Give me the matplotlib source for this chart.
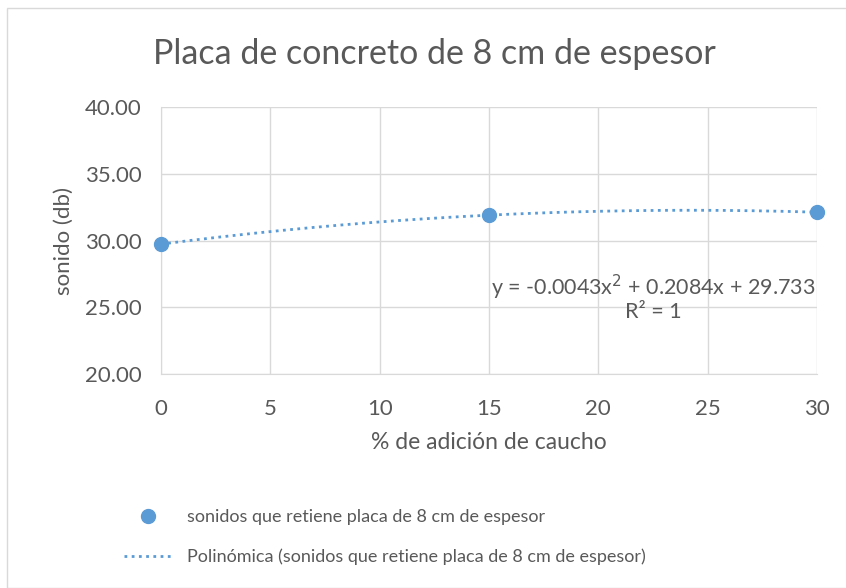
import numpy as np
import matplotlib
matplotlib.use("Agg")
import matplotlib.pyplot as plt
from matplotlib.patches import Rectangle

# Datos
adicion_caucho = [0, 15, 30]
sonido_db = [29.73, 31.90, 32.12]
ticks_x = [0, 5, 10, 15, 20, 25, 30]
ticks_y = [20, 25, 30, 35, 40]

AZUL = "#5B9BD5"
GRIS_TXT = "#595959"
GRIS_GRID = "#D9D9D9"

plt.rcParams["font.family"] = ["Lato", "DejaVu Sans"]

fig = plt.figure(figsize=(8.46, 5.88), dpi=100)
ax = fig.add_axes([0.1903, 0.3639, 0.7754, 0.4541])

# Marco exterior del gráfico (estilo Excel)
fig.patches.append(Rectangle((7 / 846, 0), 1, 1 - 8 / 588, transform=fig.transFigure,
                             fill=False, edgecolor="#D9D9D9", lw=1))

# Línea de tendencia polinómica (grado 2) ajustada a los puntos
coef = np.polyfit(adicion_caucho, sonido_db, 2)
xs = np.linspace(min(adicion_caucho), max(adicion_caucho), 200)
ax.plot(xs, np.polyval(coef, xs), color=AZUL, lw=2, ls=(0, (1, 1.6)),
        label="Polinómica (sonidos que retiene placa de 8 cm de espesor)", zorder=3)
ax.plot(adicion_caucho, sonido_db, "o", color=AZUL, ms=10,
        label="sonidos que retiene placa de 8 cm de espesor", zorder=4, clip_on=False)

ax.set_xlim(0, 30)
ax.set_ylim(20, 40)
ax.set_xticks(ticks_x)
ax.set_yticks(ticks_y)
ax.set_yticklabels([f"{v:.2f}" for v in ticks_y])
ax.grid(True, color=GRIS_GRID, lw=1)
ax.set_axisbelow(True)
for s in ["top", "right"]:
    ax.spines[s].set_visible(False)
for s in ["left", "bottom"]:
    ax.spines[s].set_color(GRIS_GRID)
ax.tick_params(length=0, labelsize=16, colors=GRIS_TXT)
ax.tick_params(axis="x", pad=18)
ax.tick_params(axis="y", pad=14)

ax.set_xlabel("% de adición de caucho", fontsize=16.5, color=GRIS_TXT, labelpad=9)
ax.set_ylabel("sonido (db)", fontsize=16, color=GRIS_TXT, labelpad=8)
fig.text(434 / 846, 1 - 54 / 588, "Placa de concreto de 8 cm de espesor",
         ha="center", va="center", fontsize=24.5, color=GRIS_TXT)

ax.text(22.5, 26.5, "y = -0.0043x$^2$ + 0.2084x + 29.733", ha="center", va="center",
        fontsize=15.5, color=GRIS_TXT)
ax.text(22.5, 24.64, "R² = 1", ha="center", va="center", fontsize=15.5, color=GRIS_TXT)

handles, labels = ax.get_legend_handles_labels()
fig.legend(handles[::-1], labels[::-1], loc="upper left", bbox_to_anchor=(108 / 846, 1 - 493 / 588),
           frameon=False, fontsize=13, labelcolor=GRIS_TXT, handlelength=2.6,
           labelspacing=1.3, handletextpad=0.9)

fig.savefig("out.png", dpi=100)
